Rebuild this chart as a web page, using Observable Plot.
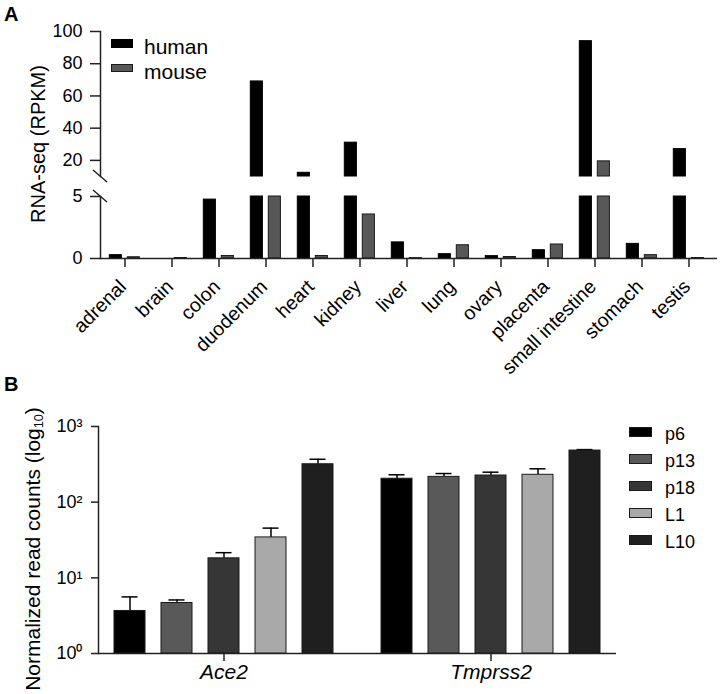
<!DOCTYPE html>
<html><head><meta charset="utf-8">
<script src="https://cdn.jsdelivr.net/npm/d3@7"></script>
<script src="https://cdn.jsdelivr.net/npm/@observablehq/plot@0.6"></script>
<style>
body{margin:0;background:#fff;}
#fig{position:relative;width:720px;height:694px;font-family:"Liberation Sans",Arial,Helvetica,sans-serif;color:#000;overflow:hidden}
#fig svg{position:absolute;left:0;font-family:"Liberation Sans",Arial,sans-serif;color:#000;overflow:visible}
.lab{position:absolute;font-weight:bold;font-size:20px;line-height:20px}
.legA{position:absolute;white-space:nowrap;font-size:21px;line-height:21px}
.legB{position:absolute;white-space:nowrap;font-size:18px;line-height:18px}
.sw{position:absolute;box-sizing:border-box;border:1px solid #1a1a1a}
.ylab{position:absolute;white-space:nowrap;line-height:1;transform:translate(-50%,-50%) rotate(-90deg)}
.ylab sub{font-size:0.6em;vertical-align:-0.25em;line-height:0}
</style></head><body><div id="fig"></div>
<script>
// ---------- Panel A data ----------
const tissues = ["adrenal","brain","colon","duodenum","heart","kidney","liver","lung","ovary","placenta","small intestine","stomach","testis"];
const human = [0.27, 0, 4.75, 69, 12.3, 31, 1.3, 0.35, 0.19, 0.67, 94, 1.18, 27];
const mouse = [0.1, 0.04, 0.2, 5, 0.2, 3.55, 0.03, 1.07, 0.12, 1.13, 19.4, 0.27, 0.04];
const speciesA = ["human", "mouse"];
const colorsA = ["#000000", "#585858"];
const yTicksLowerA = [0, 5];
const yTicksUpperA = [20, 40, 60, 80, 100];
const breakA = [5, 10];   // axis gap between 5 and 10
const yLabelA = "RNA-seq (RPKM)";

// ---------- Panel B data ----------
const genes = ["Ace2", "Tmprss2"];
const stages = ["p6", "p13", "p18", "L1", "L10"];
const colorsB = ["#000000", "#595959", "#363636", "#a9a9a9", "#1f1f1f"];
const ace2Mean = [3.65, 4.65, 18.1, 34.2, 317];
const ace2Upper = [5.6, 5.1, 21.5, 45.4, 369];
const tmprss2Mean = [204, 216, 225, 230, 481];
const tmprss2Upper = [230, 239, 249, 276, 495];
const yTicksB = [1, 10, 100, 1000];
const yLabelB = ["Normalized read counts (log", "10", ")"];

const fig = document.getElementById("fig");
const AXIS = "#222";
const FONT = "Liberation Sans, Arial, sans-serif";
const [lo, hi] = breakA;

// ---------- Panel A ----------
const rowsA = tissues.flatMap((t, i) => [
  {tissue: t, species: "human", v: human[i]},
  {tissue: t, species: "mouse", v: mouse[i]}
]);
const insetA = {human: [8.3, 26.6], mouse: [26.3, 8.6]};

function barOpts(s, k) {
  return {x: "tissue", fill: colorsA[k], stroke: k ? "#1a1a1a" : "#000", strokeWidth: 1,
    insetLeft: insetA[s][0], insetRight: insetA[s][1]};
}
// break slash drawn on the y axis at a given value of the segment's y scale
function slashAt(v) {
  return (index, scales, values, dims) => {
    const x = dims.marginLeft, y = scales.y(v);
    return d3.create("svg:line").attr("x1", x - 7).attr("y1", y - 6).attr("x2", x + 7).attr("y2", y + 6)
      .attr("stroke", AXIS).attr("stroke-width", 1.5).node();
  };
}
const xA = {domain: tissues, range: [97, 716], padding: 0, axis: null};
const common = {width: 720, height: 372, marginLeft: 100, marginRight: 3};

// upper segment (10 – 100)
const plotAUpper = Plot.plot({
  ...common, marginTop: 31, marginBottom: 196,
  style: {fontFamily: FONT, fontSize: "18px", color: "#000", background: "transparent"},
  x: xA, y: {domain: [hi, 100], axis: null},
  marks: [
    ...speciesA.map((s, k) => Plot.barY(rowsA.filter(d => d.species === s && d.v > hi), {...barOpts(s, k), y1: () => hi, y2: "v"})),
    Plot.frame({anchor: "left", stroke: AXIS, strokeWidth: 1.5}),
    slashAt(hi),
    Plot.axisY({ticks: yTicksUpperA, tickFormat: d => String(d), tickSize: 10, tickPadding: 8, fontSize: 18, stroke: AXIS, strokeWidth: 1.5, label: null})
  ]
});
// lower segment (0 – 5) with x axis
const plotALower = Plot.plot({
  ...common, marginTop: 196, marginBottom: 114,
  style: {fontFamily: FONT, fontSize: "19px", color: "#000", background: "transparent"},
  x: xA, y: {domain: [0, lo], axis: null},
  marks: [
    ...speciesA.map((s, k) => Plot.barY(rowsA.filter(d => d.species === s && d.v > 0), {...barOpts(s, k), y1: () => 0, y2: d => Math.min(d.v, lo)})),
    Plot.frame({anchor: "left", stroke: AXIS, strokeWidth: 1.5}),
    Plot.ruleY([0], {stroke: AXIS, strokeWidth: 1.5}),
    slashAt(lo),
    Plot.axisY({ticks: yTicksLowerA, tickFormat: d => String(d), tickSize: 10, tickPadding: 8, fontSize: 18, stroke: AXIS, strokeWidth: 1.5, label: null}),
    Plot.axisX({tickSize: 9, tickFormat: null, stroke: AXIS, strokeWidth: 1.5, label: null}),
    Plot.text(tissues, {x: d => d, frameAnchor: "bottom", rotate: -45, textAnchor: "end", lineAnchor: "middle",
      dx: -2, dy: 25, fontSize: 19.5, fill: "#000"})
  ]
});
plotAUpper.style.top = "0px";
plotALower.style.top = "0px";
fig.appendChild(plotAUpper);
fig.appendChild(plotALower);

// ---------- Panel B ----------
const rowsB = genes.flatMap((g, gi) => stages.map((s, si) => ({
  gene: g, stage: s,
  mean: (gi ? tmprss2Mean : ace2Mean)[si],
  upper: (gi ? tmprss2Upper : ace2Upper)[si]
})));
const sup = "\u2070\u00b9\u00b2\u00b3";
const plotB = Plot.plot({
  width: 720, height: 326,
  marginTop: 58, marginBottom: 41, marginLeft: 97, marginRight: 104,
  x: {domain: stages, padding: 0.34, axis: null},
  fx: {domain: genes, paddingInner: 0.06, paddingOuter: 0, axis: null},
  y: {type: "log", domain: [yTicksB[0], yTicksB[yTicksB.length - 1]], axis: null},
  color: {domain: stages, range: colorsB},
  style: {fontFamily: FONT, fontSize: "18px", color: "#000", background: "transparent"},
  marks: [
    Plot.frame({anchor: "left", facetAnchor: "left", stroke: AXIS, strokeWidth: 1.5}),
    Plot.ruleY([{gene: genes[0]}], {fx: "gene", y: () => yTicksB[0], insetRight: -16, stroke: AXIS, strokeWidth: 1.5}),
    Plot.ruleY([{gene: genes[1]}], {fx: "gene", y: () => yTicksB[0], stroke: AXIS, strokeWidth: 1.5}),
    Plot.ruleX(rowsB, {fx: "gene", x: "stage", y1: "mean", y2: "upper", stroke: "#000", strokeWidth: 1.5}),
    Plot.tickY(rowsB, {fx: "gene", x: "stage", y: "upper", insetLeft: 7.5, insetRight: 7.5, stroke: "#000", strokeWidth: 1.5}),
    Plot.barY(rowsB, {fx: "gene", x: "stage", y1: () => yTicksB[0], y2: "mean", fill: "stage", stroke: "#1a1a1a", strokeWidth: 1}),
    Plot.axisY({ticks: yTicksB, tickFormat: d => "10" + sup[Math.round(Math.log10(d))], tickSize: 7, tickPadding: 9, fontSize: 18, stroke: AXIS, strokeWidth: 1.5, label: null}),
    Plot.axisFx({anchor: "bottom", tickSize: 8, tickPadding: 3, fontSize: 21, fontStyle: "italic", stroke: AXIS, strokeWidth: 1.5, label: null})
  ]
});
plotB.style.top = "368px";
fig.appendChild(plotB);

// ---------- Panel letters, axis titles & legends ----------
function addDiv(cls, text, left, top, extra) {
  const d = document.createElement("div");
  d.className = cls;
  d.textContent = text;
  d.style.left = left + "px";
  d.style.top = top + "px";
  if (extra) Object.assign(d.style, extra);
  fig.appendChild(d);
  return d;
}
addDiv("lab", "A", 4, 4);
addDiv("lab", "B", 4, 374);

addDiv("ylab", yLabelA, 38, 144, {fontSize: "20px"});
const lb = addDiv("ylab", "", 31.5, 549, {fontSize: "21px"});
lb.append(yLabelB[0]);
const sb = document.createElement("sub"); sb.textContent = yLabelB[1]; lb.append(sb);
lb.append(yLabelB[2]);

speciesA.forEach((s, i) => {
  addDiv("sw", "", 111, 39 + i * 24.5, {width: "22px", height: "8.5px", background: colorsA[i], borderColor: i ? "#1a1a1a" : "#000"});
  addDiv("legA", s, 144, 36 + i * 24.5);
});
stages.forEach((s, i) => {
  addDiv("sw", "", 629, 427 + i * 27, {width: "23px", height: "10px", background: colorsB[i]});
  addDiv("legB", s, 665, 425 + i * 27);
});
</script>
</body></html>
